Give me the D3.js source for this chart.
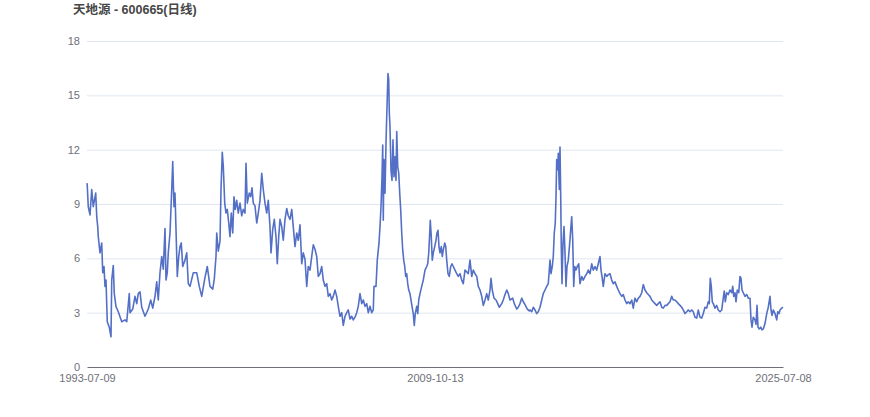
<!DOCTYPE html>
<html><head><meta charset="utf-8">
<script src="https://cdn.jsdelivr.net/npm/d3@7"></script>
<style>body{margin:0;background:#fff;}svg{display:block;}</style>
</head><body><svg id="chart" width="870" height="417"></svg>
<script>
const chartTitle = "天地源 - 600665(日线)";
const totalSessions = 7657;
const xTickLabels = ["1993-07-09", "2009-10-13", "2025-07-08"];
const xTickSessions = [0, 3828, 7656];
const yTicks = [0, 3, 6, 9, 12, 15, 18];

// trading-session index (0 = 1993-07-09) of each sampled close
const sessions = [
0,3,14,33,52,69,96,107,118,124,143,162,173,187,198,209,223,245,264,272,289,300,319,344,382,418,437,465,473,503,528,547,564,583,602,638,674,701,723,748,767,784,803,822,839,858,869,883,894,913,932,943,957,968,979,993,1009,1023,1037,1053,1078,1097,1114,
1133,1169,1207,1235,1262,1298,1323,1353,1383,1400,1419,1427,1444,1463,1474,1488,1499,1515,1529,1543,1559,1573,1587,1603,1617,1631,1647,1664,1683,1702,1719,1738,1749,1763,1785,1801,1815,1829,1848,1867,1884,1903,1922,1939,1958,1977,1994,2013,2024,2043,2060,2079,2093,2109,2123,2142,2159,2178,2197,2214,2233,2252,2269,2288,2307,2324,
2343,2362,2379,2398,2417,2434,2453,2472,2489,2508,2527,2544,2563,2582,2599,2618,2637,2654,2673,2692,2709,2728,2747,2764,2783,2802,2819,2838,2857,2874,2893,2912,2929,2948,2967,2984,3003,3022,3039,3058,3077,3094,3113,3132,3149,
3157,3179,3193,3212,3223,3234,3245,3253,3259,3267,3278,3289,3303,3311,3319,3325,3333,3344,3355,3366,3377,3388,3399,3407,3418,3429,3440,3451,3462,3473,3484,3495,3506,3517,3528,3539,3553,3564,3575,3589,3600,3611,3627,3638,3649,3663,3682,3699,3718,3737,3748,3759,3770,3776,3787,3798,3809,3825,3839,3850,3861,3872,3883,3897,3908,3919,3935,3946,3957,3971,3985,4001,4015,4029,4048,4067,4084,4103,4122,4139,4158,4177,4194,4213,4232,4249,4268,4287,4304,4323,
4342,4359,4378,4397,4414,4433,4444,4458,4477,4499,4518,4535,4562,4579,4598,4617,4634,4653,4683,4700,4727,4744,4763,4782,4799,4818,4843,4865,
4873,4892,4909,4928,4947,4964,4983,5002,5019,5038,5057,5074,5093,5104,5118,5129,5140,5151,5159,5167,5178,5184,5195,5203,5211,5217,5225,5236,5247,5258,5269,5280,5294,5310,5321,5332,5343,5354,5365,5379,5393,5409,5423,5442,5459,5478,5497,5514,5533,5552,5569,5588,5607,5624,5643,5654,5665,5679,5698,5717,5734,5753,5772,5789,5808,5827,5844,5863,5882,5899,5918,5937,5954,5973,
5992,6009,6028,6047,6064,6083,6102,6119,6138,6157,6174,6193,6212,6229,6248,6267,6284,6303,6322,6339,6358,6377,6394,6413,6432,6449,6468,6487,6504,6523,6542,6559,6578,6597,6614,6633,6652,6669,6688,6707,6724,6743,6762,6779,6798,6817,6834,6845,6856,6867,6878,6889,6908,6927,6944,6963,6982,6999,7010,7021,7037,7054,7073,7092,7103,7114,7128,7139,7153,7169,7183,7194,7205,7219,7238,7257,7274,7293,7304,7315,7329,7348,7359,7370,7381,7395,7411,7425,7439,7458,7477,7494,7513,7524,7535,7549,7568,7587,7598,7612,7623,7642,7656
];

// close price at each sampled session
const closes = [
10.15,10.0,8.85,8.4,9.8,8.85,9.6,8.3,7.75,7.2,6.3,6.85,5.2,5.55,4.45,4.8,2.5,2.2,1.67,4.8,5.6,4.05,3.33,3.05,2.5,2.6,2.5,4.05,3.0,3.2,3.9,3.5,4.05,4.15,3.3,2.8,3.2,3.7,3.25,3.9,4.7,3.7,5.2,6.1,5.4,7.65,4.8,5.2,6.3,7.4,9.8,11.35,8.85,9.6,7.6,5.0,6.1,6.65,6.85,5.55,5.9,6.3,4.6,
4.45,5.2,5.2,4.45,3.9,4.95,5.55,4.45,4.3,4.85,6.1,7.4,6.4,6.95,9.8,11.85,11.1,9.05,8.5,8.7,7.95,7.2,8.5,7.4,9.4,8.7,9.2,8.5,9.05,8.35,8.7,8.5,11.25,9.05,9.6,9.4,9.9,9.05,8.9,7.95,8.5,9.2,10.7,9.8,9.05,8.5,9.2,7.75,6.3,7.6,8.15,7.2,5.7,7.2,8.15,7.75,7.0,8.15,8.75,8.35,8.15,8.7,7.75,6.65,7.4,7.0,
7.85,5.7,6.3,5.95,4.45,5.55,5.35,6.1,6.75,6.5,6.1,5.0,5.15,5.55,4.8,4.45,4.6,3.9,4.05,3.7,3.9,4.25,3.9,3.35,2.8,3.0,2.3,2.8,3.0,3.15,2.65,2.8,2.6,2.75,3.0,3.35,4.05,3.5,3.7,3.35,3.5,3.0,3.35,3.0,3.15,
4.45,4.45,5.9,6.85,7.75,8.85,10.5,12.25,8.1,11.45,9.6,12.35,14.9,16.2,15.85,14.1,13.25,10.85,10.3,12.55,10.5,11.6,10.3,13.0,11.05,10.7,9.6,8.65,7.4,6.45,5.9,5.55,5.0,5.15,4.6,4.25,4.05,3.7,3.35,2.95,2.3,2.95,3.35,2.95,3.7,4.05,4.45,4.8,5.35,5.55,5.7,6.3,7.4,8.1,7.2,5.9,6.3,6.65,7.0,7.4,7.55,6.65,6.3,6.65,6.1,6.45,6.85,6.65,5.9,5.15,5.0,5.55,5.7,5.55,5.35,5.15,5.0,5.15,4.8,4.6,5.35,5.25,5.15,5.9,5.0,5.35,5.15,5.0,4.45,4.25,
3.9,3.4,3.7,4.05,3.7,4.25,4.9,4.25,3.8,3.7,3.5,3.3,3.5,3.7,4.0,4.25,4.05,3.7,3.8,3.5,3.2,3.3,3.5,3.8,3.6,3.45,3.2,3.1,
3.15,3.05,3.3,3.15,2.95,3.05,3.3,3.7,4.05,4.25,4.45,4.6,5.9,5.15,5.55,6.1,7.4,7.95,9.4,11.45,10.9,11.8,9.8,12.15,9.4,6.65,4.6,6.85,7.75,6.3,4.45,5.55,5.9,6.85,7.6,8.3,7.0,4.45,5.55,5.35,5.55,5.7,4.6,5.0,4.8,5.0,5.15,5.35,5.15,5.7,5.35,5.55,5.35,5.7,6.1,5.35,5.0,4.45,5.15,5.0,5.1,5.15,4.8,4.6,4.7,4.45,4.25,4.05,3.9,4.0,3.7,3.5,3.6,3.5,
3.7,3.25,3.8,3.6,3.8,3.9,4.1,4.55,4.25,4.1,4.0,3.9,3.7,3.6,3.5,3.4,3.5,3.6,3.3,3.25,3.4,3.4,3.5,3.6,3.9,3.7,3.7,3.6,3.5,3.4,3.3,3.15,2.95,3.05,3.15,3.05,3.15,3.05,2.75,2.7,3.15,2.75,2.7,2.95,3.3,3.25,3.6,3.5,4.9,4.45,3.6,3.5,3.25,3.4,3.15,3.05,3.15,3.8,4.2,3.6,4.1,4.0,4.25,4.1,4.45,3.9,4.1,3.6,4.25,4.1,5.0,4.9,4.25,4.1,3.9,4.0,3.8,3.8,2.6,2.2,2.75,2.6,2.35,3.4,2.2,2.1,2.2,2.05,2.1,2.4,2.95,3.3,3.9,3.15,2.85,3.15,2.95,2.6,3.05,2.95,3.15,3.25,3.3
];

const W = 870, H = 417;
const margin = {left: 87, right: 87, top: 41, bottom: 50};
const svg = d3.select("#chart");
const font = "'Liberation Sans', Arial, 'Noto Sans CJK SC', sans-serif";

const x = d3.scaleLinear().domain([0, totalSessions - 1]).range([margin.left, W - margin.right]);
const y = d3.scaleLinear().domain([0, 18]).range([H - margin.bottom, margin.top]);

// grid + y labels
const yAxis = d3.axisLeft(y).tickValues(yTicks).tickSize(-(W - margin.left - margin.right)).tickPadding(7);
const gy = svg.append("g").attr("transform", `translate(${margin.left},0)`).call(yAxis);
gy.select(".domain").remove();
gy.selectAll(".tick line").attr("stroke", "#E0E6F1").attr("stroke-width", 1);
gy.selectAll(".tick text").attr("fill", "#6E7079").style("font-family", font).style("font-size", "11px");
gy.selectAll(".tick").filter(d => d === 0).select("line").remove();

// x axis
const xAxis = d3.axisBottom(x).tickValues(xTickSessions).tickSize(0).tickPadding(7)
  .tickFormat((d, i) => xTickLabels[i]);
const gx = svg.append("g").attr("transform", `translate(0,${H - margin.bottom})`).call(xAxis);
gx.select(".domain").attr("stroke", "#6E7079");
gx.selectAll(".tick text").attr("fill", "#6E7079").style("font-family", font).style("font-size", "11px");

// line
const data = sessions.map((s, i) => ({s, v: closes[i]}));
const line = d3.line().x(d => x(d.s)).y(d => y(d.v));
svg.append("path").datum(data).attr("d", line)
  .attr("fill", "none").attr("stroke", "#5470C6").attr("stroke-width", 1.6)
  .attr("stroke-linejoin", "round");

// title
svg.append("text").attr("x", 73).attr("y", 14).text(chartTitle)
  .attr("fill", "#464646").style("font-family", font).style("font-size", "12.5px").style("font-weight", "bold");
</script></body></html>
